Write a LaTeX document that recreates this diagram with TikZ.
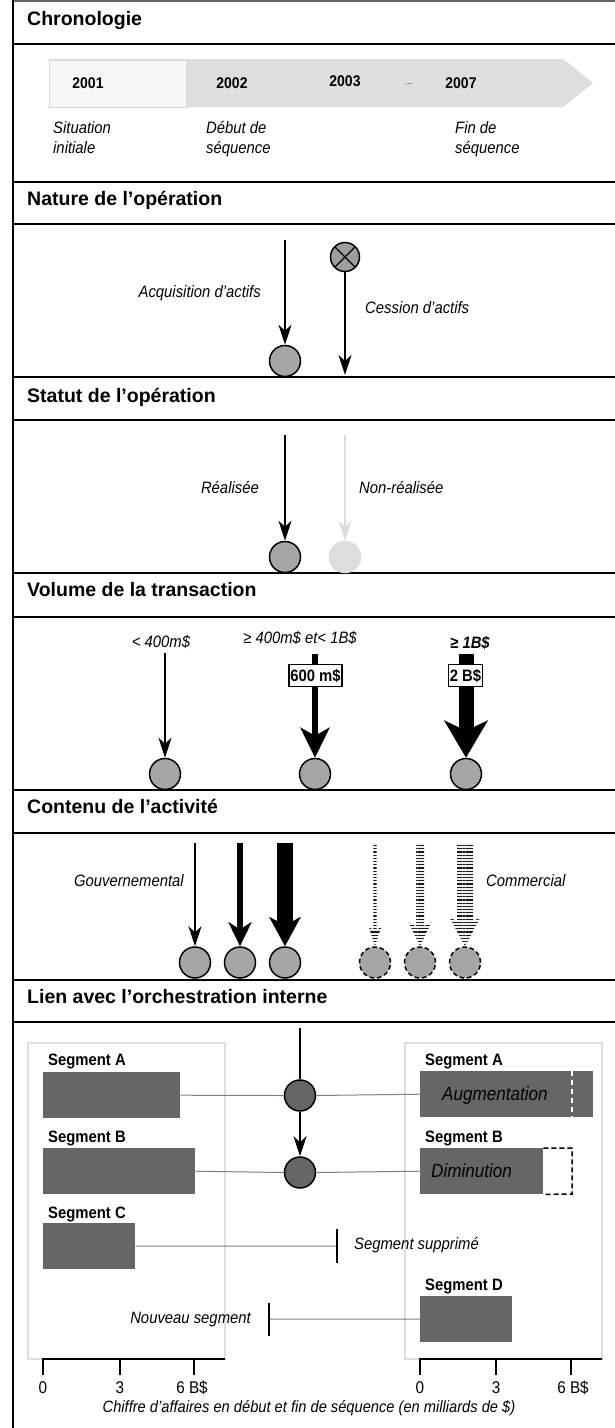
\documentclass[tikz,border=0pt]{standalone}
\usepackage{fontspec}
\setmainfont{Liberation Sans}
\newfontfamily\nar{Liberation Sans}[FakeStretch=0.9]
\usetikzlibrary{arrows.meta,calc,patterns.meta}
\definecolor{cgray}{HTML}{A6A6A6}
\definecolor{dgray}{HTML}{666666}
\definecolor{lgray}{HTML}{DEDEDE}
\definecolor{pgray}{HTML}{DDDDDD}
\newcommand\stripedarrow[5]{%
  \path[preaction={fill=black!6}, pattern={Lines[distance=3.2pt,line width=1.3pt]}, pattern color=black!90]
    let \p1=(#1), \p2=(#2.north) in
    (\x1-#3,\y1) -- (\x1+#3,\y1) -- (\x1+#3,\y2+#5-4pt) -- (\x1+#4,\y2+#5) -- (\x2,\y2)
    -- (\x1-#4,\y2+#5) -- (\x1-#3,\y2+#5-4pt) -- cycle;}
\begin{document}
\begin{tikzpicture}[x=1pt,y=-1pt,
  sectline/.style={line width=2.5pt},
  ttl/.style={anchor=base west, inner sep=0pt, font=\fontsize{19.5}{22}\selectfont\bfseries},
  lbl/.style={inner sep=0pt, font=\nar\fontsize{16.5}{19}\selectfont\itshape},
  big/.style={inner sep=0pt, anchor=base west, font=\nar\fontsize{19}{22}\selectfont\itshape},
  yr/.style={anchor=base, inner sep=0pt, font=\nar\fontsize{15.5}{18}\selectfont\bfseries},
  segl/.style={anchor=base west, inner sep=0pt, font=\nar\fontsize{16.5}{19}\selectfont\bfseries},
  tickl/.style={anchor=base, inner sep=0pt, font=\nar\fontsize{17}{19}\selectfont},
  circ/.style={circle, draw=black, line width=1.5pt, fill=cgray, minimum size=31pt, inner sep=0pt},
  dcirc/.style={circ, fill=dgray},
  dashcirc/.style={circ, dash pattern=on 4.5pt off 3pt},
  xcirc/.style={circ, minimum size=29pt, fill=cgray!95!black,
    path picture={\draw[line width=1.3pt] (path picture bounding box.north west) -- (path picture bounding box.south east)
      (path picture bounding box.north east) -- (path picture bounding box.south west);}},
  arrA/.style={line width=2pt, -{Stealth[length=20pt,width=13pt,inset=6pt]}},
  arrB/.style={line width=6.7pt, -{Stealth[length=24pt,width=23pt,inset=7pt]}},
  arrC/.style={line width=16.5pt, -{Stealth[length=29pt,width=31pt,inset=8pt]}},
  arrVB/.style={line width=6.7pt, -{Stealth[length=30pt,width=29pt,inset=8pt]}},
  arrVC/.style={line width=15pt, -{Stealth[length=37pt,width=43pt,inset=10pt]}},
  vbox/.style={draw=black, line width=1.5pt, fill=white, inner xsep=1.5pt, inner ysep=0pt, minimum height=22pt,
    font=\nar\fontsize{16.5}{19}\selectfont\bfseries},
  bar/.style={fill=dgray, inner sep=0pt, anchor=north west, minimum height=46pt},
  conn/.style={draw=black!50, line width=1pt},
  pnl/.style={draw=black!13, line width=1.5pt},
  tick/.style={line width=2pt}
]
\useasboundingbox (0,0) rectangle (615,1428);
\fill[white] (0,0) rectangle (615,1428);

% frame and section lines
\draw[line width=2pt, black!60] (12,1) -- (615,1);
\draw[line width=2pt] (13,0) -- (13,1428);
\foreach \yy in {44,182,224,377,420,573,617,790,833,980,1022}
  \draw[sectline] (12,\yy) -- (615,\yy);

% titles
\node[ttl] (t1) at (27,25) {Chronologie};
\node[ttl] (t2) at (27,205.5) {Nature de l’opération};
\node[ttl] (t3) at (27,402) {Statut de l’opération};
\node[ttl] (t4) at (27,596) {Volume de la transaction};
\node[ttl] (t5) at (27,813) {Contenu de l’activité};
\node[ttl] (t6) at (27,1003) {Lien avec l’orchestration interne};

% chronology
\fill[lgray] (49,59) -- (563,59) -- (593,83) -- (563,107) -- (49,107) -- cycle;
\filldraw[fill=black!3, draw=black!15, line width=1pt] (49,60) rectangle (186,107);
\node[yr] (y1) at (88,88) {2001};
\node[yr] (y2) at (232,88) {2002};
\node[yr] (y3) at (345,86) {2003};
\node[anchor=base, inner sep=0pt, font=\fontsize{8}{9}\selectfont] (y4) at (409,84) {...};
\node[yr] (y5) at (461,88) {2007};
\node[lbl, anchor=base west] (s1) at (53,133) {Situation};
\node[lbl, anchor=base west] (s2) at (53,153) {initiale};
\node[lbl, anchor=base west] (s3) at (206,133) {Début de};
\node[lbl, anchor=base west] (s4) at (206,153) {séquence};
\node[lbl, anchor=base west] (s5) at (455,133) {Fin de};
\node[lbl, anchor=base west] (s6) at (455,153) {séquence};

% nature
\coordinate (a1s) at (285,240);
\node[circ] (c1) at (285,361) {};
\draw[arrA] (a1s) -- (c1.north);
\node[lbl, anchor=base east] (l1) at (261,297) {Acquisition d’actifs};
\node[xcirc] (c2) at (345,257) {};
\coordinate (a2e) at (345,375);
\draw[arrA] (c2.south) -- (a2e);
\node[lbl, anchor=base west] (l2) at (365,313) {Cession d’actifs};

% statut
\coordinate (a3s) at (285,435);
\node[circ] (c3) at (285,557) {};
\draw[arrA] (a3s) -- (c3.north);
\coordinate (a4s) at (345,435);
\node[circ, draw=pgray, fill=pgray] (c4) at (345,557) {};
\draw[arrA, pgray] (a4s) -- (c4.north);
\node[lbl, anchor=base east] (l3) at (259,493) {Réalisée};
\node[lbl, anchor=base west] (l4) at (359,493) {Non-réalisée};

% volume
\coordinate (v1s) at (165,653);
\coordinate (v2s) at (315,654);
\coordinate (v3s) at (466,654);
\node[circ] (v1) at (165,774) {};
\node[circ] (v2) at (315,774) {};
\node[circ] (v3) at (466,774) {};
\draw[arrA] (v1s) -- (v1.north);
\draw[arrVB] (v2s) -- (v2.north);
\draw[arrVC] (v3s) -- (v3.north);
\node[vbox] (b1) at (315.5,675.5) {600 m\$};
\node[vbox] (b2) at (465.5,675.5) {2 B\$};
\node[lbl, anchor=base] (vl1) at (161,647) {< 400m\$};
\node[lbl, anchor=base] (vl2) at (300,643) {≥ 400m\$ et< 1B\$};
\node[lbl, anchor=base, font=\nar\fontsize{16.5}{19}\selectfont\bfseries\itshape] (vl3) at (470,648) {≥ 1B\$};

% contenu
\coordinate (g1s) at (195,843);
\coordinate (g2s) at (240,843);
\coordinate (g3s) at (285,843);
\coordinate (k1s) at (375,843);
\coordinate (k2s) at (420,843);
\coordinate (k3s) at (465,843);
\node[circ] (g1) at (195,962.5) {};
\node[circ] (g2) at (240,962.5) {};
\node[circ] (g3) at (285,962.5) {};
\node[dashcirc] (k1) at (375,962.5) {};
\node[dashcirc] (k2) at (420,962.5) {};
\node[dashcirc] (k3) at (465,962.5) {};
\draw[arrA] (g1s) -- (g1.north);
\draw[arrB] (g2s) -- (g2.north);
\draw[arrC] (g3s) -- (g3.north);
\stripedarrow{k1s}{k1}{1.6pt}{6.5pt}{20pt}
\stripedarrow{k2s}{k2}{4pt}{11.5pt}{24pt}
\stripedarrow{k3s}{k3}{8pt}{15.5pt}{29pt}
\node[lbl, anchor=base east] (cl1) at (184,886) {Gouvernemental};
\node[lbl, anchor=base west] (cl2) at (486,886) {Commercial};

% lien
\draw[pnl] (28,1043) rectangle (225,1359);
\draw[pnl] (405,1043) rectangle (602,1359);
\coordinate (lv) at (300,1028);
\node[dcirc] (L1) at (300,1095.5) {};
\node[dcirc] (L2) at (300,1172.5) {};
\draw[line width=2pt] (lv) -- (L1.north);
\draw[arrA] (L1.south) -- (L2.north);

\node[bar, minimum width=137pt] (lA) at (43,1072) {};
\node[bar, minimum width=152pt] (lB) at (43,1148) {};
\node[bar, minimum width=92pt] (lC) at (43,1223) {};
\node[bar, minimum width=173pt] (rA) at (420,1071) {};
\node[bar, minimum width=123pt] (rB) at (420,1148) {};
\node[bar, minimum width=92pt] (rD) at (420,1296) {};

\draw[conn] (lA.east) -- (L1.west);
\draw[conn] (L1.east) -- (rA.west);
\draw[conn] (lB.east) -- (L2.west);
\draw[conn] (L2.east) -- (rB.west);
\coordinate (tc) at (337,1246);
\coordinate (td) at (269,1319);
\draw[conn] (lC.east) -- (tc);
\draw[conn] (rD.west) -- (td);
\draw[tick] ($(tc)+(0,-17)$) -- ($(tc)+(0,17)$);
\draw[tick] ($(td)+(0,-16)$) -- ($(td)+(0,17)$);

\draw[white, line width=1.5pt, dash pattern=on 5pt off 4pt] (572,1071) -- (572,1117);
\draw[black, line width=1.5pt, dash pattern=on 5pt off 3pt] (rB.north east) -- (572,1148) -- (572,1194) -- (rB.south east);

\node[segl] (sA) at (48,1065) {Segment A};
\node[segl] (sB) at (48,1142) {Segment B};
\node[segl] (sC) at (48,1218) {Segment C};
\node[segl] (rsA) at (425,1065) {Segment A};
\node[segl] (rsB) at (425,1142) {Segment B};
\node[segl] (rsD) at (425,1290) {Segment D};
\node[big] (aug) at (442,1100) {Augmentation};
\node[big] (dim) at (431,1177) {Diminution};
\node[lbl, anchor=base west] (sup) at (354,1249) {Segment supprimé};
\node[lbl, anchor=base east] (nouv) at (251,1323) {Nouveau segment};

% axes
\draw[tick] (43,1359) -- (225,1359);
\draw[tick] (420,1359) -- (602,1359);
\foreach \xx in {43,120,194,420,496,571}
  \draw[tick] (\xx,1358) -- (\xx,1375);
\node[tickl] (x1) at (43,1393) {0};
\node[tickl] (x2) at (120,1393) {3};
\node[tickl] (x3) at (192,1393) {6 B\$};
\node[tickl] (x4) at (420,1393) {0};
\node[tickl] (x5) at (496,1393) {3};
\node[tickl] (x6) at (573,1393) {6 B\$};
\node[lbl, anchor=base, font=\nar\fontsize{16.3}{19}\selectfont\itshape] (cap) at (309,1412) {Chiffre d’affaires en début et fin de séquence (en milliards de \$)};
\end{tikzpicture}
\end{document}
